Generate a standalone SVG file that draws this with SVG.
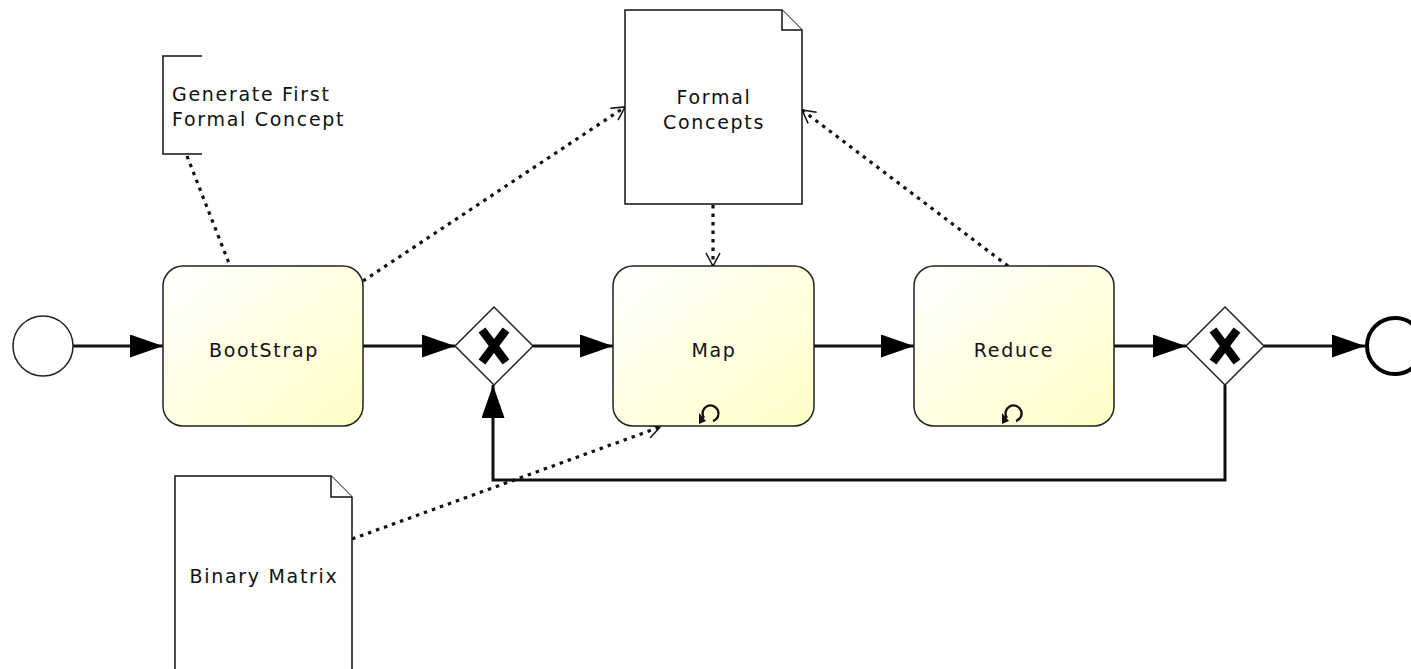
<svg xmlns="http://www.w3.org/2000/svg" width="1411" height="669" viewBox="0 0 1411 669">
<style>
.task{stroke:#222;stroke-width:1.5}
.lbl{font-family:"DejaVu Sans","Liberation Sans",sans-serif;font-size:19px;letter-spacing:1.7px;fill:#111}
.doc{fill:#fff;stroke:#111;stroke-width:1.5}
.flow{fill:none;stroke:#111;stroke-width:3}
.assoc{fill:none;stroke:#111;stroke-width:3.2;stroke-dasharray:3.5 5}
.gw{fill:#fff;stroke:#222;stroke-width:1.5}
.xm{stroke:#000;stroke-width:8.5}
.loop{fill:none;stroke:#111;stroke-width:2.4}
</style>
<defs>
<linearGradient id="tg" x1="0" y1="0" x2="1" y2="1">
<stop offset="0" stop-color="#ffffff"/>
<stop offset="1" stop-color="#ffffc6"/>
</linearGradient>
<marker id="fa" markerUnits="userSpaceOnUse" markerWidth="34" markerHeight="24" refX="33" refY="11.5" orient="auto">
<path d="M0,0 L33,11.5 L0,23 Z" fill="#000"/>
</marker>
<marker id="oa" markerUnits="userSpaceOnUse" markerWidth="16" markerHeight="16" refX="14" refY="8" orient="auto">
<path d="M1,1 L14,8 L1,15" fill="none" stroke="#111" stroke-width="1.5"/>
</marker>
</defs>

<g id="connectors">
<line class="flow" x1="73" y1="346" x2="163" y2="346" marker-end="url(#fa)"/>
<line class="flow" x1="363" y1="346" x2="455" y2="346" marker-end="url(#fa)"/>
<line class="flow" x1="533" y1="346" x2="613" y2="346" marker-end="url(#fa)"/>
<line class="flow" x1="814" y1="346" x2="914" y2="346" marker-end="url(#fa)"/>
<line class="flow" x1="1114" y1="346" x2="1186" y2="346" marker-end="url(#fa)"/>
<line class="flow" x1="1264" y1="346" x2="1365" y2="346" marker-end="url(#fa)"/>
<polyline class="flow" points="1225,385 1225,480 493,480 493,385" marker-end="url(#fa)"/>
<line class="assoc" x1="187" y1="156" x2="230" y2="266"/>
<line class="assoc" x1="363" y1="281" x2="625" y2="107" marker-end="url(#oa)"/>
<line class="assoc" x1="713" y1="205" x2="713" y2="266" marker-end="url(#oa)"/>
<line class="assoc" x1="1008" y1="266" x2="802" y2="110" marker-end="url(#oa)"/>
<line class="assoc" x1="352" y1="539" x2="660" y2="427" marker-end="url(#oa)"/>
</g>

<g id="start">
<circle cx="43" cy="346" r="30" fill="#fff" stroke="#222" stroke-width="1.5"/>
</g>

<g id="bootstrap">
<rect class="task" x="163" y="266" width="200" height="160" rx="20" fill="url(#tg)"/>
<text class="lbl" x="264" y="357" text-anchor="middle">BootStrap</text>
</g>

<g id="gateway1">
<polygon class="gw" points="494,307 533,346 494,385 455,346"/>
<line class="xm" x1="482" y1="330" x2="506" y2="362"/>
<line class="xm" x1="506" y1="330" x2="482" y2="362"/>
</g>

<g id="map">
<rect class="task" x="613" y="266" width="201" height="160" rx="20" fill="url(#tg)"/>
<text class="lbl" x="714" y="357" text-anchor="middle">Map</text>
<path class="loop" d="M704,418 A8,8 0 1 1 713,421"/>
<path d="M699,413 L706,421 L699,424 Z" fill="#111"/>
</g>

<g id="reduce">
<rect class="task" x="914" y="266" width="200" height="160" rx="20" fill="url(#tg)"/>
<text class="lbl" x="1014" y="357" text-anchor="middle">Reduce</text>
<path class="loop" d="M1007,418 A8,8 0 1 1 1016,421"/>
<path d="M1002,413 L1009,421 L1002,424 Z" fill="#111"/>
</g>

<g id="gateway2">
<polygon class="gw" points="1225,307 1264,346 1225,385 1186,346"/>
<line class="xm" x1="1213" y1="330" x2="1237" y2="362"/>
<line class="xm" x1="1237" y1="330" x2="1213" y2="362"/>
</g>

<g id="end">
<circle cx="1395" cy="346" r="28" fill="#fff" stroke="#000" stroke-width="4"/>
</g>

<g id="formal-concepts">
<path class="doc" d="M625,10 H782 L802,30 V204 H625 Z"/>
<path class="doc" d="M782,10 V30 H802" fill="none"/>
<text class="lbl" x="714" y="104" text-anchor="middle">Formal</text>
<text class="lbl" x="714" y="129" text-anchor="middle">Concepts</text>
</g>

<g id="binary-matrix">
<path class="doc" d="M175,476 H331 L352,497 V690 H175 Z"/>
<path class="doc" d="M331,476 V497 H352" fill="none"/>
<text class="lbl" x="264" y="583" text-anchor="middle">Binary Matrix</text>
</g>

<g id="annotation">
<path d="M202,56 H163 V154 H202" fill="none" stroke="#111" stroke-width="1.5"/>
<text class="lbl" x="172" y="101">Generate First</text>
<text class="lbl" x="172" y="126">Formal Concept</text>
</g>
</svg>
